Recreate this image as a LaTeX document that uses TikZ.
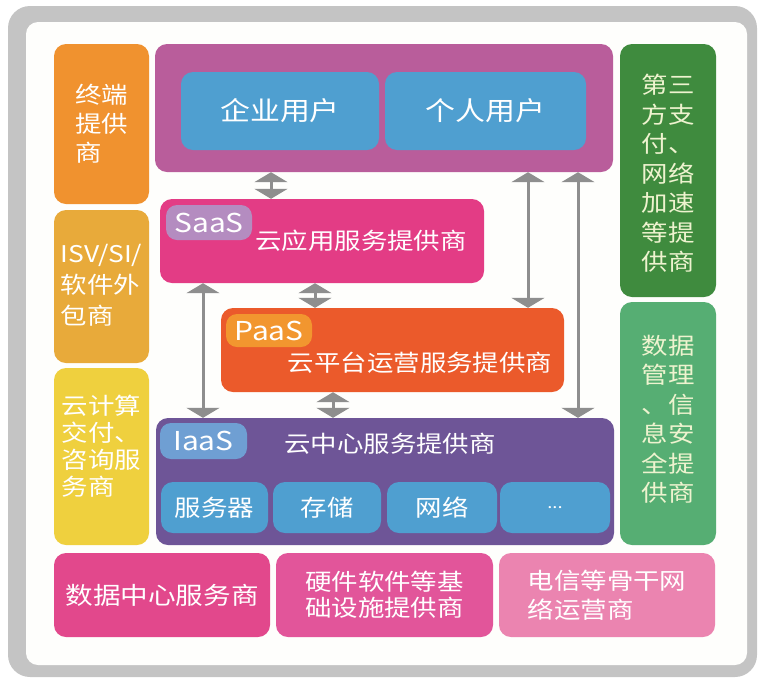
\documentclass[tikz,border=0pt]{standalone}
\usepackage{fontspec}
\newfontfamily\cjk[FakeStretch=1.15]{Noto Sans CJK SC}
\usetikzlibrary{arrows.meta}
\definecolor{cFrame}{HTML}{C4C4C4}
\definecolor{cInner}{HTML}{FEFEFC}
\definecolor{cOrange}{HTML}{F0922F}
\definecolor{cGold}{HTML}{E8AA3A}
\definecolor{cYellow}{HTML}{EFD03E}
\definecolor{cMauve}{HTML}{B95D9B}
\definecolor{cBlue}{HTML}{4F9FD0}
\definecolor{cSaaS}{HTML}{E33C85}
\definecolor{cSaaSl}{HTML}{B48CC0}
\definecolor{cPaaS}{HTML}{EB5A2B}
\definecolor{cPaaSl}{HTML}{F2962F}
\definecolor{cIaaS}{HTML}{6E5597}
\definecolor{cIaaSl}{HTML}{6F9FD3}
\definecolor{cGreenD}{HTML}{3F8B3E}
\definecolor{cGreenL}{HTML}{56AE73}
\definecolor{cPinkA}{HTML}{E2488C}
\definecolor{cPinkB}{HTML}{E2559A}
\definecolor{cPinkC}{HTML}{EB84B0}
\definecolor{cArrow}{HTML}{8E8E8E}
\definecolor{cPale}{HTML}{EEF3CF}
\begin{document}
\begin{tikzpicture}[x=1pt,y=-1pt,
  box/.style={rounded corners=12pt, inner sep=0pt, draw=none, text=white,
    font=\cjk\fontsize{23}{29}\selectfont, align=left},
  lbl/.style={rounded corners=11pt, inner sep=0pt, draw=none, text=white,
    font=\cjk\fontsize{26}{30}\selectfont},
  txt/.style={inner sep=0pt, text=white, font=\cjk\fontsize{23}{28}\selectfont, align=left},
  conn/.style={draw=cArrow, line width=3pt,
    {Triangle[width=33pt,length=10pt]}-{Triangle[width=33pt,length=10pt]}}
]
\useasboundingbox (0,0) rectangle (759,678);
% frame
\node[fill=cFrame, rounded corners=22pt, minimum width=749pt, minimum height=671pt, inner sep=0pt] (frame) at (382.5,341.5) {};
\node[fill=cInner, rounded corners=12pt, minimum width=721pt, minimum height=643pt, inner sep=0pt] (inner) at (386.5,343.5) {};
% left column
\node[box, fill=cOrange, minimum width=95pt, minimum height=160pt] (term) at (101.5,124) {终端\\提供\\商};
\node[box, fill=cGold, minimum width=95pt, minimum height=153pt] (isv) at (101.5,286.5) {};
\node[txt, font=\cjk\fontsize{23}{31}\selectfont] (isvtxt) at (101.5,285) {ISV/SI/\\软件外\\包商};
\node[box, fill=cYellow, minimum width=95pt, minimum height=177pt] (cons) at (101.5,456.5) {};
\node[txt, font=\cjk\fontsize{23}{27}\selectfont] (constxt) at (101.5,446) {云计算\\交付、\\咨询服\\务商};
% users
\node[box, fill=cMauve, minimum width=458pt, minimum height=128pt] (users) at (384,108) {};
\node[box, fill=cBlue, minimum width=198pt, minimum height=78pt, font=\cjk\fontsize{26}{30}\selectfont] (ent) at (280,111) {企业用户};
\node[box, fill=cBlue, minimum width=201pt, minimum height=78pt, font=\cjk\fontsize{26}{30}\selectfont] (ind) at (485.5,111) {个人用户};
% SaaS
\node[box, fill=cSaaS, minimum width=324pt, minimum height=84pt] (saas) at (322,241) {};
\node[lbl, fill=cSaaSl, minimum width=86pt, minimum height=35pt] (saaslbl) at (209,222.5) {SaaS};
\node[txt] (saastxt) at (361,241) {云应用服务提供商};
% PaaS
\node[box, fill=cPaaS, minimum width=343pt, minimum height=84pt] (paas) at (392.5,350) {};
\node[lbl, fill=cPaaSl, minimum width=86pt, minimum height=33pt] (paaslbl) at (269,330.5) {PaaS};
\node[txt] (paastxt) at (420,363) {云平台运营服务提供商};
% IaaS
\node[box, fill=cIaaS, minimum width=458pt, minimum height=127pt] (iaas) at (385,481.5) {};
\node[lbl, fill=cIaaSl, minimum width=87pt, minimum height=36pt] (iaaslbl) at (203.5,441) {IaaS};
\node[txt] (iaastxt) at (390,444) {云中心服务提供商};
\node[box, fill=cBlue, minimum width=107pt, minimum height=51pt] (srv) at (214.5,507.5) {服务器};
\node[box, fill=cBlue, minimum width=108pt, minimum height=51pt] (sto) at (327,507.5) {存储};
\node[box, fill=cBlue, minimum width=110pt, minimum height=51pt] (net) at (442,507.5) {网络};
\node[box, fill=cBlue, minimum width=110pt, minimum height=51pt, font=\cjk\fontsize{16}{20}\selectfont] (dots) at (555,507.5) {...};
% right column
\node[box, fill=cGreenD, minimum width=96pt, minimum height=253pt] (pay) at (668,170.5) {};
\node[txt, text=cPale, font=\cjk\fontsize{23}{29.5}\selectfont] (paytxt) at (668,173.5) {第三\\方支\\付、\\网络\\加速\\等提\\供商};
\node[box, fill=cGreenL, minimum width=96pt, minimum height=243pt] (sec) at (668,423.5) {};
\node[txt, text=cPale, font=\cjk\fontsize{23}{29.5}\selectfont] (sectxt) at (668,419) {数据\\管理\\、信\\息安\\全提\\供商};
% bottom row
\node[box, fill=cPinkA, minimum width=216pt, minimum height=84pt, font=\cjk\fontsize{24}{28}\selectfont] (dc) at (162,595) {数据中心服务商};
\node[box, fill=cPinkB, minimum width=217pt, minimum height=84pt, font=\cjk\fontsize{23}{26}\selectfont] (hw) at (384.5,595) {硬件软件等基\\础设施提供商};
\node[box, fill=cPinkC, minimum width=216pt, minimum height=84pt, font=\cjk\fontsize{23}{29}\selectfont] (tel) at (607,595) {电信等骨干网\\络运营商};
% connectors
\draw[conn] (271,0 |- users.south) -- (271,0 |- saas.north);
\draw[conn] (315,0 |- saas.south) -- (315,0 |- paas.north);
\draw[conn] (203,0 |- saas.south) -- (203,0 |- iaas.north);
\draw[conn] (528,0 |- users.south) -- (528,0 |- paas.north);
\draw[conn] (578,0 |- users.south) -- (578,0 |- iaas.north);
\draw[conn] (333,0 |- paas.south) -- (333,0 |- iaas.north);
\end{tikzpicture}
\end{document}
